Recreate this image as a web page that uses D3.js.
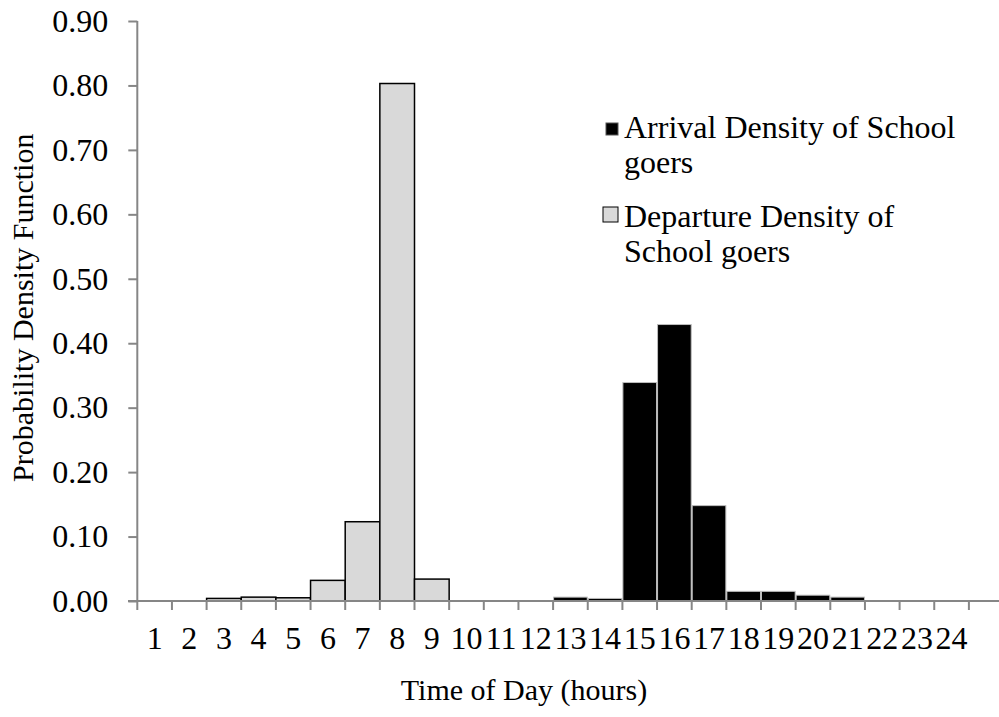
<!DOCTYPE html>
<html>
<head>
<meta charset="utf-8">
<script src="https://cdn.jsdelivr.net/npm/d3@7"></script>
<style>
  html, body { margin: 0; padding: 0; background: #fff; }
  svg { display: block; }
  text { font-family: "Liberation Serif", "Times New Roman", serif; fill: #000; }
</style>
</head>
<body>
<svg id="chart" width="999" height="717"></svg>
<script>
const hours = d3.range(1, 25).map(String);
const slots = hours.concat([""]); // trailing empty slot (axis runs past 24)
const arrival =   [0, 0, 0, 0, 0, 0, 0, 0, 0, 0, 0, 0, 0.006, 0.004, 0.339, 0.429, 0.148, 0.015, 0.015, 0.009, 0.006, 0, 0, 0];
const departure = [0, 0, 0.004, 0.006, 0.005, 0.032, 0.123, 0.803, 0.034, 0, 0, 0, 0, 0, 0, 0, 0, 0, 0, 0, 0, 0, 0, 0];
const yTicks = [0, 0.1, 0.2, 0.3, 0.4, 0.5, 0.6, 0.7, 0.8, 0.9];

const svg = d3.select("#chart");
const W = 999;
const axisColor = "#868686";
const tickFont = 32;
const titleFont = 30;
const legendFont = 32;

const x = d3.scaleBand().domain(slots.map((d, i) => i)).range([137.3, 137.3 + 34.65 * slots.length]).padding(0);
const y = d3.scaleLinear().domain([0, 0.9]).range([601, 21]);

// Bars
const depData = departure.map((v, i) => ({i, v})).filter(d => d.v > 0);
const arrData = arrival.map((v, i) => ({i, v})).filter(d => d.v > 0);

svg.append("g").selectAll("rect").data(depData).join("rect")
  .attr("x", d => x(d.i))
  .attr("width", x.bandwidth())
  .attr("y", d => y(d.v))
  .attr("height", d => y(0) - y(d.v))
  .attr("fill", "#d9d9d9")
  .attr("stroke", "#000")
  .attr("stroke-width", 1.5);

svg.append("g").selectAll("rect").data(arrData).join("rect")
  .attr("x", d => x(d.i) + 0.5)
  .attr("width", x.bandwidth() - 1)
  .attr("y", d => y(d.v))
  .attr("height", d => y(0) - y(d.v))
  .attr("fill", "#000")
  .attr("stroke", "#bdbdbd")
  .attr("stroke-width", 1);

// Y axis
const yAxis = d3.axisLeft(y).tickValues(yTicks).tickFormat(d3.format(".2f")).tickSize(9).tickPadding(20);
const gy = svg.append("g").attr("transform", "translate(137.3,0)").call(yAxis);
gy.select(".domain").attr("stroke", axisColor).attr("stroke-width", 2).attr("d", `M0,${y(0.9)}V${y(0)}`);
gy.selectAll(".tick line").attr("stroke", axisColor).attr("stroke-width", 2);
gy.selectAll(".tick text").style("font-size", tickFont + "px").style("font-family", "Liberation Serif").attr("fill", "#000");

// X axis
const xAxis = d3.axisBottom(x).tickFormat(i => slots[i]).tickSize(0).tickPadding(25);
const gx = svg.append("g").attr("transform", `translate(0,${y(0)})`).call(xAxis);
gx.select(".domain").remove();
gx.selectAll(".tick text").style("font-size", tickFont + "px").style("font-family", "Liberation Serif").attr("fill", "#000");
gx.append("line").attr("x1", 128).attr("x2", W).attr("y1", 0).attr("y2", 0)
  .attr("stroke", axisColor).attr("stroke-width", 2);
gx.selectAll(".bound").data(d3.range(slots.length)).join("line")
  .attr("class", "bound")
  .attr("x1", i => x(i)).attr("x2", i => x(i))
  .attr("y1", 0).attr("y2", 9)
  .attr("stroke", axisColor).attr("stroke-width", 2);

// Axis titles
svg.append("text")
  .attr("transform", `translate(33,${y(0.455)}) rotate(-90)`)
  .attr("text-anchor", "middle")
  .style("font-size", titleFont + "px")
  .text("Probability Density Function");

svg.append("text")
  .attr("x", 524).attr("y", 700)
  .attr("text-anchor", "middle")
  .style("font-size", titleFont + "px")
  .text("Time of Day (hours)");

// Legend
const legend = svg.append("g");
const legendItems = [
  {lines: ["Arrival Density of School", "goers"], fill: "#000", stroke: "#555", y: 138, sqx: 606, sqy: 123, sq: 12},
  {lines: ["Departure Density of", "School goers"], fill: "#d9d9d9", stroke: "#000", y: 227, sqx: 603, sqy: 207, sq: 15}
];
legendItems.forEach(it => {
  legend.append("rect").attr("x", it.sqx).attr("y", it.sqy)
    .attr("width", it.sq).attr("height", it.sq)
    .attr("fill", it.fill).attr("stroke", it.stroke).attr("stroke-width", 1);
  const t = legend.append("text").attr("x", 624).attr("y", it.y).style("font-size", legendFont + "px");
  it.lines.forEach((ln, j) => {
    t.append("tspan").attr("x", 624).attr("dy", j === 0 ? 0 : 35).text(ln);
  });
});
</script>
</body>
</html>
